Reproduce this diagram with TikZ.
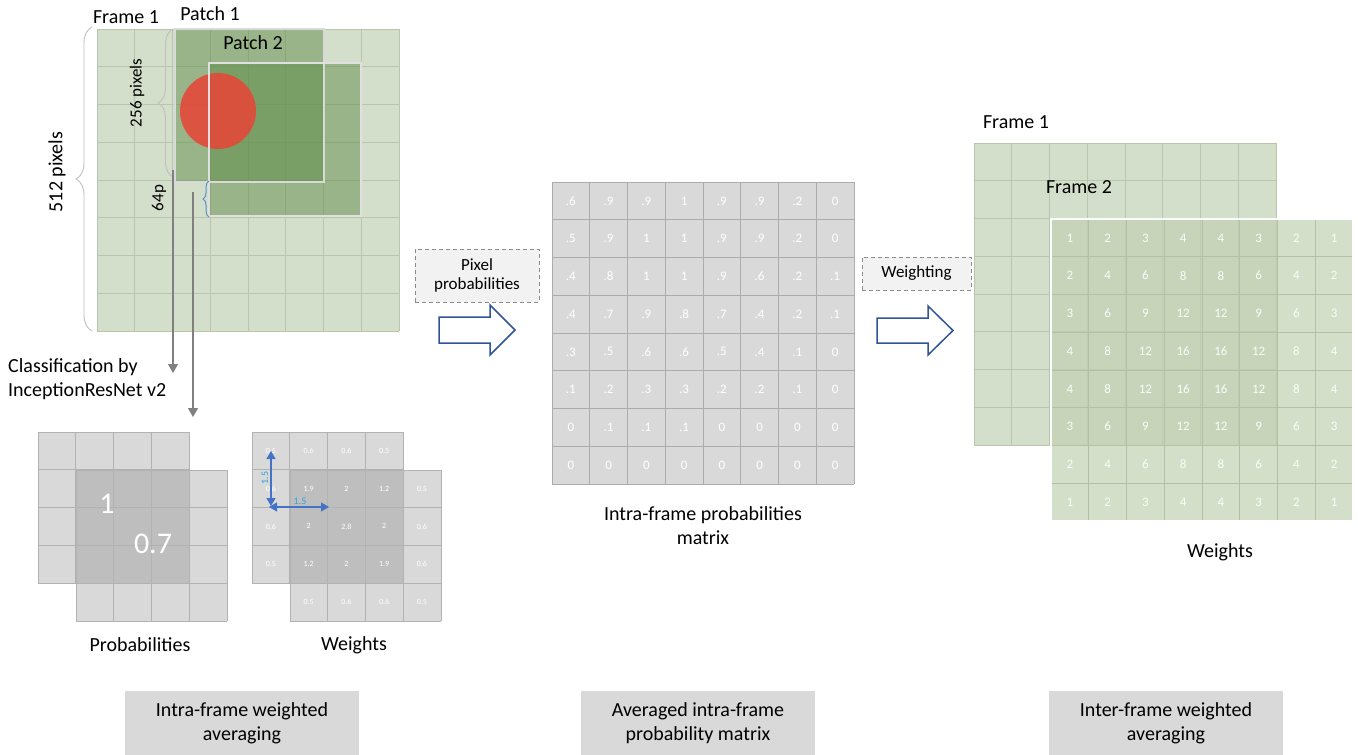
\documentclass[tikz,border=0pt]{standalone}
\usepackage{fontspec}
\setmainfont{Carlito}
\usetikzlibrary{arrows.meta,decorations.pathreplacing,calc}

\definecolor{frgreen}{HTML}{D3DECB}
\definecolor{frline}{HTML}{B7C6AC}
\definecolor{patchg}{HTML}{5E8C46}
\definecolor{redc}{HTML}{E84435}
\definecolor{cellg}{HTML}{D9D9D9}
\definecolor{cellline}{HTML}{ACACAC}
\definecolor{boxfill}{HTML}{F2F2F2}
\definecolor{darrow}{HTML}{2F5597}
\definecolor{blueA}{HTML}{4472C4}
\definecolor{cyanT}{HTML}{2EA3DB}
\definecolor{ftwo}{RGB}{194,209,178}
\definecolor{ftwoline}{RGB}{178,192,166}
\definecolor{bracegray}{HTML}{BFBFBF}
\definecolor{bluebrace}{HTML}{5B8FD0}

\newcommand{\mygrid}[6]{%
  \path[#5] (#1,#2) rectangle ({#1+#3*37.75},{#2+#4*37.75});
  \foreach \gi in {0,...,#3}{\draw[#6] ({#1+\gi*37.75},#2) -- ({#1+\gi*37.75},{#2+#4*37.75});}
  \foreach \gj in {0,...,#4}{\draw[#6] (#1,{#2+\gj*37.75}) -- ({#1+#3*37.75},{#2+\gj*37.75});}
}

\begin{document}
\begin{tikzpicture}[x=1pt,y=-1pt,
  t20/.style={font=\fontsize{20}{24}\selectfont, inner sep=0pt},
  t17/.style={font=\fontsize{17}{19}\selectfont, inner sep=0pt},
  numw/.style={font=\fontsize{13}{15}\selectfont, text=white, inner sep=0pt},
  numsmall/.style={font=\fontsize{8}{9}\selectfont, text=white, inner sep=0pt},
  numbig/.style={font=\fontsize{30}{32}\selectfont, text=white, inner sep=0pt},
  dashbox/.style={draw=black!45, dash pattern=on 4pt off 3pt, line width=0.9pt, fill=boxfill, inner sep=0pt, align=center},
  stagebox/.style={fill=cellg, minimum width=234pt, minimum height=64pt, inner sep=0pt, align=center, font=\fontsize{20}{24}\selectfont},
  greyarrow/.style={draw=black!50, line width=1.3pt, -{Triangle[length=9pt,width=10pt]}},
  bluearrow/.style={draw=blueA, line width=1.2pt, {Triangle[length=8pt,width=9pt]}-{Triangle[length=8pt,width=9pt]}},
  blockarrow/.style={draw=darrow, line width=1.5pt, fill=white, line join=miter},
  bracedec/.style={decorate, decoration={brace, amplitude=#1}},
]
\useasboundingbox (0,0) rectangle (1358,755);

% ---------------- Left: Frame 1 with patches ----------------
\mygrid{97}{29}{8}{8}{fill=frgreen}{frline, line width=0.8pt}
\fill[patchg, fill opacity=0.5] (175,29) rectangle (324,182);
\fill[patchg, fill opacity=0.5] (209,63) rectangle (361,216);
\fill[redc, fill opacity=0.85] (218,111) circle (38);
\draw[black!15, line width=1.3pt] (175,29) rectangle (324,182);
\draw[black!12, line width=1.3pt] (209,63) rectangle (361,216);

\node[t20] (frameA) at (126,17) {Frame 1};
\node[t20] (patchA) at (210,14) {Patch 1};
\node[t20] (patchB) at (253,43) {Patch 2};

\draw[bracegray, line width=0.9pt, bracedec=16pt] (92,331) -- (92,27);
\draw[bracegray, line width=0.9pt, bracedec=15pt] (173,177) -- (173,29);
\draw[bluebrace, line width=1pt, bracedec=6pt] (209,217) -- (209,181);
\node[t20, rotate=90] (px512) at (57,172) {512 pixels};
\node[font=\fontsize{17}{19}\selectfont, inner sep=0pt, rotate=90] (px256) at (137,93) {256 pixels};
\node[font=\fontsize{17}{19}\selectfont, inner sep=0pt, rotate=90] (px64) at (159,198) {64p};

\coordinate (a1s) at (173,170);
\coordinate (a1e) at (173,373);
\coordinate (a2s) at (193,192);
\coordinate (a2e) at (193,417);
\draw[greyarrow] (a1s) -- (a1e);
\draw[greyarrow] (a2s) -- (a2e);

\node[t20, anchor=west, align=left] (classif) at (8,379) {Classification by\\InceptionResNet v2};

% ---------------- Probabilities ----------------
\mygrid{38}{432}{4}{4}{fill=black!50, fill opacity=0.3}{black!30, line width=0.9pt}
\mygrid{76}{470}{4}{4}{fill=black!50, fill opacity=0.3}{black!30, line width=0.9pt}
\node[numbig] (pone) at (107,504) {1};
\node[numbig] (pseven) at (153,544) {0.7};
\node[t20] (problabel) at (140,645) {Probabilities};

% ---------------- Weights (intra) ----------------
\mygrid{252}{432}{4}{4}{fill=black!50, fill opacity=0.3}{black!30, line width=0.9pt}
\mygrid{290}{470}{4}{4}{fill=black!50, fill opacity=0.3}{black!30, line width=0.9pt}
\foreach \c/\r/\v in {0/0/0.5,1/0/0.6,2/0/0.6,3/0/0.5,
                      0/1/0.6,1/1/1.9,2/1/2,3/1/1.2,4/1/0.5,
                      0/2/0.6,1/2/2,2/2/2.8,3/2/2,4/2/0.6,
                      0/3/0.5,1/3/1.2,2/3/2,3/3/1.9,4/3/0.6,
                      1/4/0.5,2/4/0.6,3/4/0.6,4/4/0.5}{
  \node[numsmall] (w-\r-\c) at ({252+37.75*(\c+0.5)},{432+37.75*(\r+0.5)}) {\v};
}
\coordinate (v1) at (271,451);
\coordinate (v2) at (271,506);
\coordinate (h1) at (269,507);
\coordinate (h2) at (329,507);
\draw[bluearrow] (v1) -- (v2);
\draw[bluearrow] (h1) -- (h2);
\node[font=\fontsize{10}{11}\selectfont, text=cyanT, inner sep=0pt, rotate=90] (lv) at (265,478) {1.5};
\node[font=\fontsize{10}{11}\selectfont, text=cyanT, inner sep=0pt] (lh) at (300,501) {1.5};
\node[t20] (wlabel) at (354,645) {Weights};

% ---------------- Middle ----------------
\node[dashbox, minimum width=124pt, minimum height=53pt, font=\fontsize{17}{19}\selectfont] (pixbox) at (477,275.5) {Pixel\\probabilities};
\draw[blockarrow] (439,317) -- (490,317) -- (490,305) -- (515,330) -- (490,355) -- (490,343) -- (439,343) -- cycle;

\mygrid{552}{182}{8}{8}{fill=cellg}{cellline, line width=0.9pt}
\foreach \row [count=\r] in {{.6,.9,.9,1,.9,.9,.2,0},{.5,.9,1,1,.9,.9,.2,0},{.4,.8,1,1,.9,.6,.2,.1},{.4,.7,.9,.8,.7,.4,.2,.1},{.3,.5,.6,.6,.5,.4,.1,0},{.1,.2,.3,.3,.2,.2,.1,0},{0,.1,.1,.1,0,0,0,0},{0,0,0,0,0,0,0,0}}{
  \foreach \v [count=\c] in \row {
    \node[numw] (m-\r-\c) at ({552+37.75*(\c-0.5)},{182+37.75*(\r-0.5)}) {\v};
  }
}
\node[t20, align=center] (mlabel) at (703,525.5) {Intra-frame probabilities\\matrix};

% ---------------- Right ----------------
\node[dashbox, minimum width=109pt, minimum height=33pt, font=\fontsize{17}{19}\selectfont] (wbox) at (916.5,273.5) {Weighting};
\draw[blockarrow] (877,318) -- (928,318) -- (928,306) -- (953,330.5) -- (928,355) -- (928,343) -- (877,343) -- cycle;

\mygrid{974}{143}{8}{8}{fill=frgreen}{frline, line width=0.8pt}
\mygrid{1051}{219}{8}{8}{fill=ftwo, fill opacity=0.7}{ftwoline, line width=0.8pt}
\draw[white, line width=1.5pt] (1051,219) rectangle (1353,521);
\node[t20] (frameR1) at (1016,122) {Frame 1};
\node[t20] (frameR2) at (1079,187) {Frame 2};
\foreach \r [count=\ri] in {1,2,3,4,4,3,2,1}{
  \foreach \c [count=\ci] in {1,2,3,4,4,3,2,1}{
    \pgfmathtruncatemacro{\prodv}{\r*\c}
    \node[numw, text=white!92!frgreen] (f-\ri-\ci) at ({1051+37.75*(\ci-0.5)},{219+37.75*(\ri-0.5)}) {\prodv};
  }
}
\node[t20] (wlabelR) at (1220,552) {Weights};

% ---------------- Bottom stage boxes ----------------
\node[stagebox] (stageA) at (242,723) {Intra-frame weighted\\averaging};
\node[stagebox] (stageB) at (698,723) {Averaged intra-frame\\probability matrix};
\node[stagebox] (stageC) at (1166,723) {Inter-frame weighted\\averaging};
\end{tikzpicture}
\end{document}
